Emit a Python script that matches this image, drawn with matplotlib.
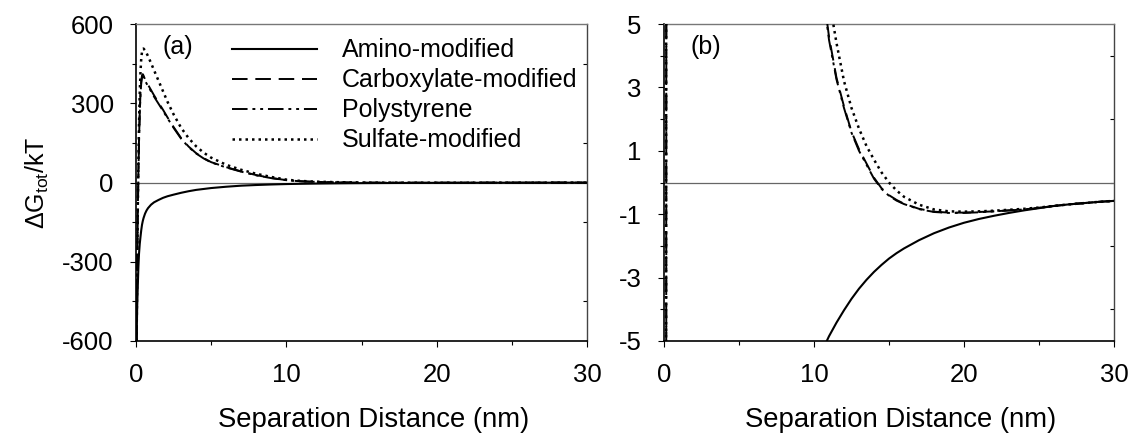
import matplotlib
matplotlib.use("Agg")
import matplotlib.pyplot as plt
from matplotlib.ticker import MultipleLocator

plt.rcParams['font.family'] = ['Liberation Sans', 'DejaVu Sans']
plt.rcParams['mathtext.fontset'] = 'custom'
plt.rcParams['mathtext.rm'] = 'Liberation Sans'
plt.rcParams['axes.unicode_minus'] = False

# separation distance (nm), shared by all four particle types
distance = [0.04, 0.08, 0.12, 0.16, 0.2, 0.25, 0.3, 0.35, 0.4, 0.45, 0.5,
            0.6, 0.7, 0.8, 1.0, 1.2, 1.5, 1.8, 2.1, 2.5, 3.0, 3.5, 4.0,
            4.5, 5.0, 6.0, 7.0, 8.0, 9.0, 10.0, 10.5, 11.0, 11.5, 12.0,
            12.5, 13.0, 13.5, 14.0, 14.5, 15.0, 15.5, 16.0, 17.0, 18.0,
            19.0, 20.0, 21.0, 22.0, 23.0, 24.0, 25.0, 26.0, 27.0, 28.0,
            29.0, 30.0]

# total interaction energy dG_tot/kT
amino = [-600, -470, -390, -320, -270, -232, -205, -180, -160, -146, -135,
         -118, -106, -97, -84, -75, -66, -58, -52, -46, -39, -33, -28,
         -24.5, -21, -16, -12, -9.5, -7.5, -5.9, -5.35, -4.85, -4.42, -4.03,
         -3.67, -3.35, -3.07, -2.82, -2.6, -2.4, -2.23, -2.08, -1.82, -1.6,
         -1.42, -1.27, -1.15, -1.05, -0.96, -0.88, -0.81, -0.74, -0.69, -0.65,
         -0.61, -0.58]
carboxylate = [-600, -330, -110, 40, 160, 270, 340, 385, 405, 410, 405,
               390, 380, 370, 350, 330, 302, 275, 246, 210, 168, 136, 111,
               92, 77, 58, 42, 28, 17, 9.0, 6.4, 4.6, 3.3, 2.4,
               1.6, 1.05, 0.6, 0.15, -0.18, -0.4, -0.55, -0.67, -0.83, -0.92,
               -0.95, -0.95, -0.93, -0.91, -0.88, -0.85, -0.8, -0.74, -0.69, -0.65,
               -0.61, -0.58]
polystyrene = [-600, -340, -120, 30, 150, 262, 333, 378, 398, 403, 399,
               385, 375, 365, 345, 325, 298, 271, 243, 207, 166, 134, 110,
               91, 76, 57, 41, 27, 16.5, 8.8, 6.3, 4.5, 3.25, 2.35,
               1.57, 1.0, 0.56, 0.12, -0.2, -0.42, -0.57, -0.68, -0.84, -0.93,
               -0.96, -0.96, -0.94, -0.91, -0.88, -0.85, -0.8, -0.74, -0.69, -0.65,
               -0.61, -0.58]
sulfate = [-600, -330, -90, 80, 220, 340, 420, 470, 495, 505, 507,
           500, 490, 478, 452, 425, 385, 345, 305, 258, 207, 168, 137,
           113, 94, 67, 48, 33, 21, 11, 8.0, 5.8, 4.4, 3.2,
           2.35, 1.7, 1.15, 0.72, 0.32, 0.0, -0.25, -0.45, -0.7, -0.85,
           -0.91, -0.92, -0.91, -0.89, -0.86, -0.83, -0.79, -0.74, -0.69, -0.65,
           -0.61, -0.58]

series = [
    ("Amino-modified", amino, dict(linestyle='-', linewidth=1.5)),
    ("Carboxylate-modified", carboxylate, dict(linestyle=(0, (8, 4)), linewidth=1.4)),
    ("Polystyrene", polystyrene, dict(linestyle=(0, (8, 2.5, 1.5, 2.5, 1.5, 2.5)), linewidth=1.4)),
    ("Sulfate-modified", sulfate, dict(linestyle=(0, (1, 1.6)), linewidth=1.8)),
]

W, H = 1135, 434
fig = plt.figure(figsize=(W / 100, H / 100), dpi=100)
ax_a = fig.add_axes([136 / W, 1 - 341 / H, 451 / W, 317 / H])
ax_b = fig.add_axes([664 / W, 1 - 341 / H, 450 / W, 317 / H])

# axis, y range, labelled ticks, unlabelled in-between ticks, panel tag
panels = [
    (ax_a, (-600, 600), [-600, -300, 0, 300, 600], [-450, -150, 150, 450], "(a)"),
    (ax_b, (-5, 5), [-5, -3, -1, 1, 3, 5], [-4, -2, 0, 2, 4], "(b)"),
]

for ax, ylim, majors, minors, tag in panels:
    ax.axhline(0, color='#666666', linewidth=0.9, zorder=1)
    for name, vals, style in series:
        ax.plot(distance, vals, color='black', label=name, zorder=3, **style)

    ax.set_xlim(0, 30)
    ax.set_ylim(*ylim)
    ax.xaxis.set_major_locator(MultipleLocator(10))
    ax.xaxis.set_minor_locator(MultipleLocator(5))
    ax.set_yticks(majors)
    ax.set_yticks(minors, minor=True)
    ax.tick_params(which='both', direction='out', labelsize=18.5, pad=12,
                   right=False, top=False)
    ax.tick_params(which='major', length=4, width=0.8)
    ax.tick_params(which='minor', length=3, width=0.8)

    # short inward ticks along the right frame
    right = ax.secondary_yaxis('right')
    right.set_yticks(minors)
    right.tick_params(direction='in', length=3, width=0.8, labelright=False)
    right.spines['right'].set_color('#444444')
    right.spines['right'].set_linewidth(1.0)
    ax.spines['right'].set_visible(False)

    for side in ('left', 'bottom'):
        ax.spines[side].set_color('black')
        ax.spines[side].set_linewidth(1.2)
    ax.spines['top'].set_color('#777777')
    ax.spines['top'].set_linewidth(1.0)

    ax.set_xlabel("Separation Distance (nm)", fontsize=19.8, labelpad=14,
                  x=0.5 + 12 / 451)
    ax.text(0.058, 0.965, tag, transform=ax.transAxes, fontsize=18,
            ha='left', va='top')

ax_a.set_ylabel(r"ΔG$_{\rm tot}$/kT", fontsize=18, labelpad=8)

ax_a.legend(loc='upper left', bbox_to_anchor=(0.213, 0.955), frameon=False,
            fontsize=18, handlelength=3.4, handletextpad=1.0,
            labelspacing=0.24, borderpad=0, borderaxespad=0)

fig.savefig("out.png", dpi=100)
